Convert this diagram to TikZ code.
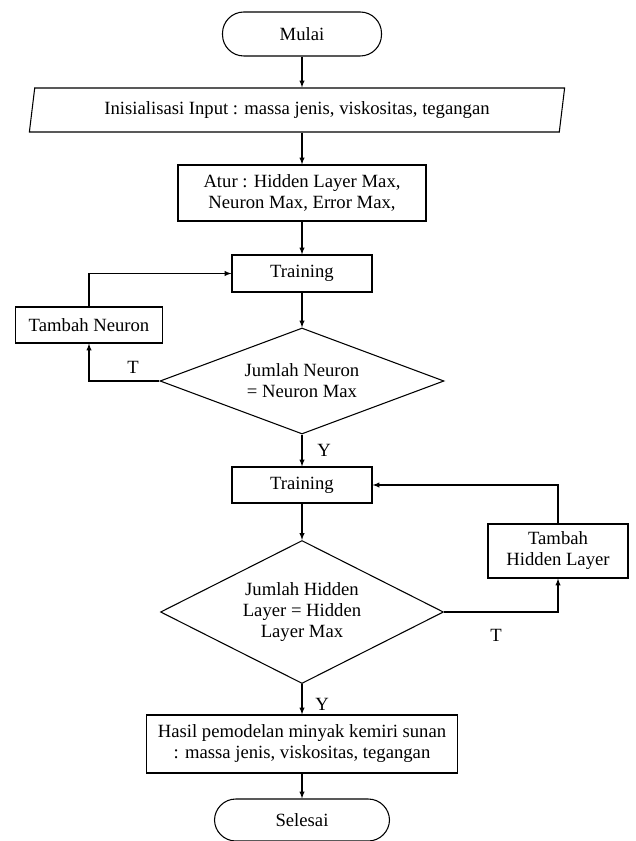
\documentclass[tikz,border=0pt]{standalone}
\usepackage{fontspec}
\setmainfont{Liberation Serif}
\usepackage{tikz}
\usetikzlibrary{arrows,positioning}
\usetikzlibrary{shapes.geometric}
\newcommand{\flowfont}{\fontsize{14}{15.75}\selectfont}

\begin{document}
\begin{tikzpicture}[x=0.75pt, y=-0.75pt,
        every node/.style={font=\flowfont},
        terminal/.style={rectangle, draw, line width=0.8pt, rounded corners=16pt,
            minimum height=33pt, inner sep=0pt},
        process/.style={rectangle, draw, line width=0.8pt, align=center, inner sep=0pt},
        decision/.style={diamond, draw, line width=0.8pt, align=center, inner sep=0pt},
        flow/.style={-latex, line width=0.8pt}]

        \useasboundingbox (0,0) rectangle (635,841);

        % Start and input
        \node[terminal, minimum width=119.25pt] (Start) at (302,34) {Mulai};
        \node[trapezium, trapezium left angle=77, trapezium right angle=103,
            trapezium stretches=true, draw, line width=0.8pt, inner sep=0pt,
            minimum width=402pt, minimum height=33pt
        ] (Input) at (297,110) {Inisialisasi Input : massa jenis, viskositas, tegangan};
        \node[process, minimum width=186pt, minimum height=42pt] (Setup) at (302,193)
            {Atur : Hidden Layer Max,\\Neuron Max, Error Max,};

        % Neuron loop
        \node[process, minimum width=105pt, minimum height=27.75pt] (Train-1) at (302,273.5) {Training};
        \node[decision, aspect=2.68, minimum width=213pt, minimum height=79.5pt] (Check-1) at (302,381)
            {Jumlah Neuron\\= Neuron Max};
        \node[process, minimum width=110.25pt, minimum height=27pt] (AddNeuron) at (89,325) {Tambah Neuron};

        % Hidden layer loop
        \node[process, minimum width=105pt, minimum height=27pt] (Train-2) at (302,485) {Training};
        \node[decision, aspect=1.98, minimum width=212.25pt, minimum height=107.25pt] (Check-2) at (302,612)
            {Jumlah Hidden\\Layer = Hidden\\Layer Max};
        \node[process, minimum width=105pt, minimum height=40.5pt] (AddLayer) at (558,551)
            {Tambah\\Hidden Layer};

        % Result and end
        \node[process, minimum width=233.25pt, minimum height=43.5pt] (Result) at (302,744)
            {Hasil pemodelan minyak kemiri sunan\\: massa jenis, viskositas, tegangan};
        \node[terminal, minimum width=131.25pt, minimum height=31.5pt] (End) at (302,820) {Selesai};

        % Labels
        \node (No-1) at (133,367) {T};
        \node (Yes-1) at (324,450) {Y};
        \node (No-2) at (496,635) {T};
        \node (Yes-2) at (322,704) {Y};

        % Main flow
        \draw[flow] (Start) -- (Start |- Input.north);
        \draw[flow] (Setup |- Input.south) -- (Setup);
        \foreach \a/\b in {Setup/Train-1, Train-1/Check-1, Check-1/Train-2,
                           Train-2/Check-2, Check-2/Result, Result/End}
        {
            \draw[flow] (\a) -- (\b);
        }

        % Loops back
        \draw[flow] (Check-1.west) -| (AddNeuron.south);
        \draw[flow] (AddNeuron.north) |- (Train-1.west);
        \draw[flow] (Check-2.east) -| (AddLayer.south);
        \draw[flow] (AddLayer.north) |- (Train-2.east);

    \end{tikzpicture}
\end{document}
